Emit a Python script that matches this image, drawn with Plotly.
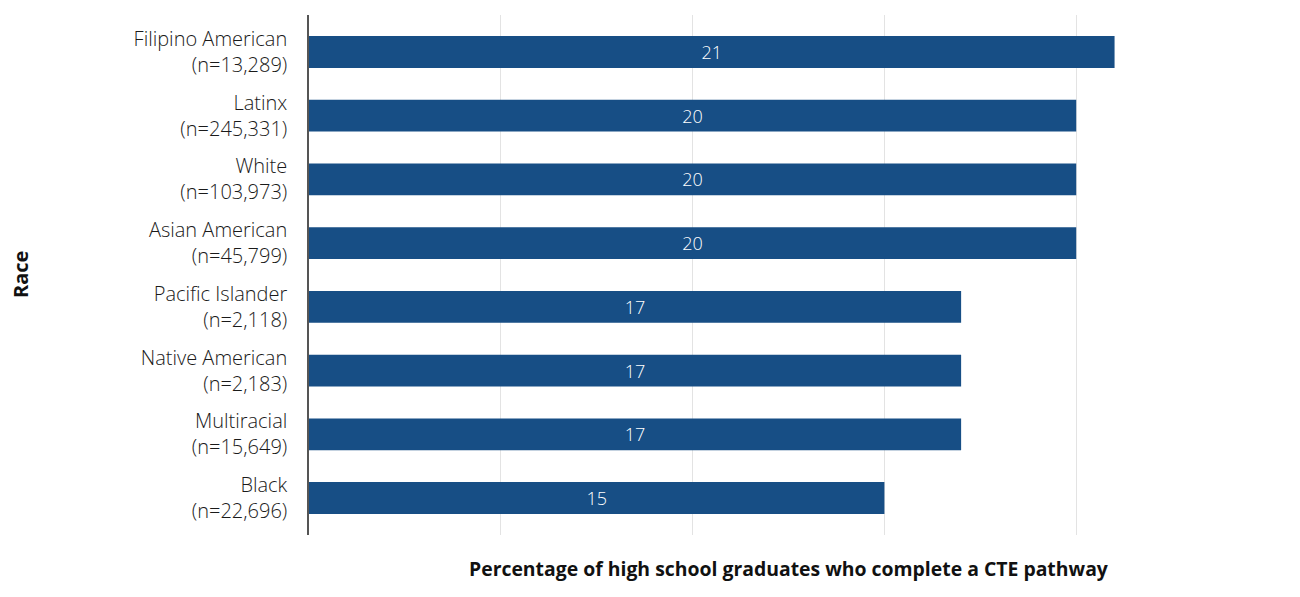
import plotly.graph_objects as go

groups = ["Filipino American", "Latinx", "White", "Asian American",
          "Pacific Islander", "Native American", "Multiracial", "Black"]
counts = ["13,289", "245,331", "103,973", "45,799", "2,118", "2,183", "15,649", "22,696"]
values = [21, 20, 20, 20, 17, 17, 17, 15]
x_ticks = [0, 5, 10, 15, 20, 25]

labels = [f"{g}<br>(n={c})" for g, c in zip(groups, counts)]

FONT = "Open Sans"
fig = go.Figure(go.Bar(
    x=values, y=labels, orientation="h", width=0.5,
    marker=dict(color="#174e85", line=dict(width=0)),
    text=[str(v) for v in values], textposition="inside",
    insidetextanchor="middle",
    textfont=dict(color="white", size=18, family=FONT, weight=300),
    hoverinfo="skip",
))

# page body has an 8px offset, so compensate in margins
W, H = 1300, 597
L, R, T, B = 301, 40, 7, 70
pw, ph = W - L - R, H - T - B

fig.update_layout(
    width=W, height=H,
    margin=dict(l=L, r=R, t=T, b=B),
    plot_bgcolor="white", paper_bgcolor="white",
    showlegend=False,
    font=dict(family=FONT, size=18, color="#1a1a1a"),
    xaxis=dict(range=[0, 25], tickvals=x_ticks, showticklabels=False,
               showgrid=True, gridcolor="#e3e3e3", gridwidth=1,
               zeroline=False, showline=False, fixedrange=True),
    yaxis=dict(range=[7.58, -0.58], showgrid=False, zeroline=False,
               showline=True, linecolor="#555555", linewidth=1.5,
               ticks="", ticklabelstandoff=16,
               tickfont=dict(size=20, color="#1a1a1a", family=FONT, weight=300)),
    annotations=[
        dict(text="<b>Percentage of high school graduates who complete a CTE pathway</b>",
             xref="paper", yref="paper", x=0.5, y=-33 / ph, xanchor="center",
             yanchor="middle", showarrow=False,
             font=dict(size=19.4, color="#111111", family=FONT)),
        dict(text="<b>Race</b>", xref="paper", yref="paper",
             x=(12 - L) / pw, y=(H - B - 267) / ph, xanchor="center", yanchor="middle",
             textangle=-90, showarrow=False,
             font=dict(size=20, color="#111111", family=FONT)),
    ],
)

fig.write_html("out.html")
